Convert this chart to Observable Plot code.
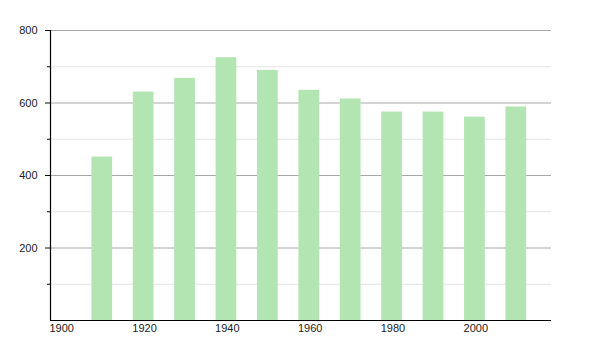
<!DOCTYPE html>
<html>
<head>
<meta charset="utf-8">
<script src="https://cdn.jsdelivr.net/npm/d3@7"></script>
<script src="https://cdn.jsdelivr.net/npm/@observablehq/plot@0.6"></script>
<style>
  body { margin: 0; background: #fff; }
  svg { font-family: "Liberation Sans", Arial, sans-serif; }
</style>
</head>
<body>
<div id="chart"></div>
<script>
const years = [1910, 1920, 1930, 1940, 1950, 1960, 1970, 1980, 1990, 2000, 2010];
const population = [451, 630, 668, 725, 690, 635, 611, 575, 575, 561, 589];
const xTicks = [1900, 1920, 1940, 1960, 1980, 2000];
const yMajor = [200, 400, 600, 800];
const yMinor = [100, 300, 500, 700];

const data = years.map((y, i) => ({year: y, end: y + 5, value: population[i]}));

const chart = Plot.plot({
  width: 600,
  height: 350,
  marginLeft: 50,
  marginRight: 49,
  marginTop: 30,
  marginBottom: 30,
  style: {fontSize: "11px", color: "#222", background: "#fff"},
  x: {type: "linear", domain: [1900, 2021], label: null},
  y: {domain: [0, 800], label: null},
  marks: [
    Plot.ruleY(yMinor, {stroke: "#e3e3e3", strokeWidth: 1}),
    Plot.ruleY(yMajor, {stroke: "#a8a8a8", strokeWidth: 1}),
    Plot.rectY(data, {x1: "year", x2: "end", y: "value", fill: "#b3e5b3"}),
    Plot.axisY(yMajor, {tickSize: 5, tickPadding: 8, stroke: "#111", fill: "#222", label: null, tickFormat: d => String(d)}),
    Plot.axisY(yMinor, {tickSize: 3, text: null, stroke: "#111", label: null}),
    Plot.axisX(xTicks, {tickSize: 0, tickPadding: 4, textAnchor: "start", dx: -1, label: null, tickFormat: d => String(d), fill: "#222"}),
    Plot.ruleX([1900], {stroke: "#000", strokeWidth: 1.2}),
    Plot.ruleY([0], {stroke: "#000", strokeWidth: 1.2})
  ]
});
document.getElementById("chart").appendChild(chart);
</script>
</body>
</html>
